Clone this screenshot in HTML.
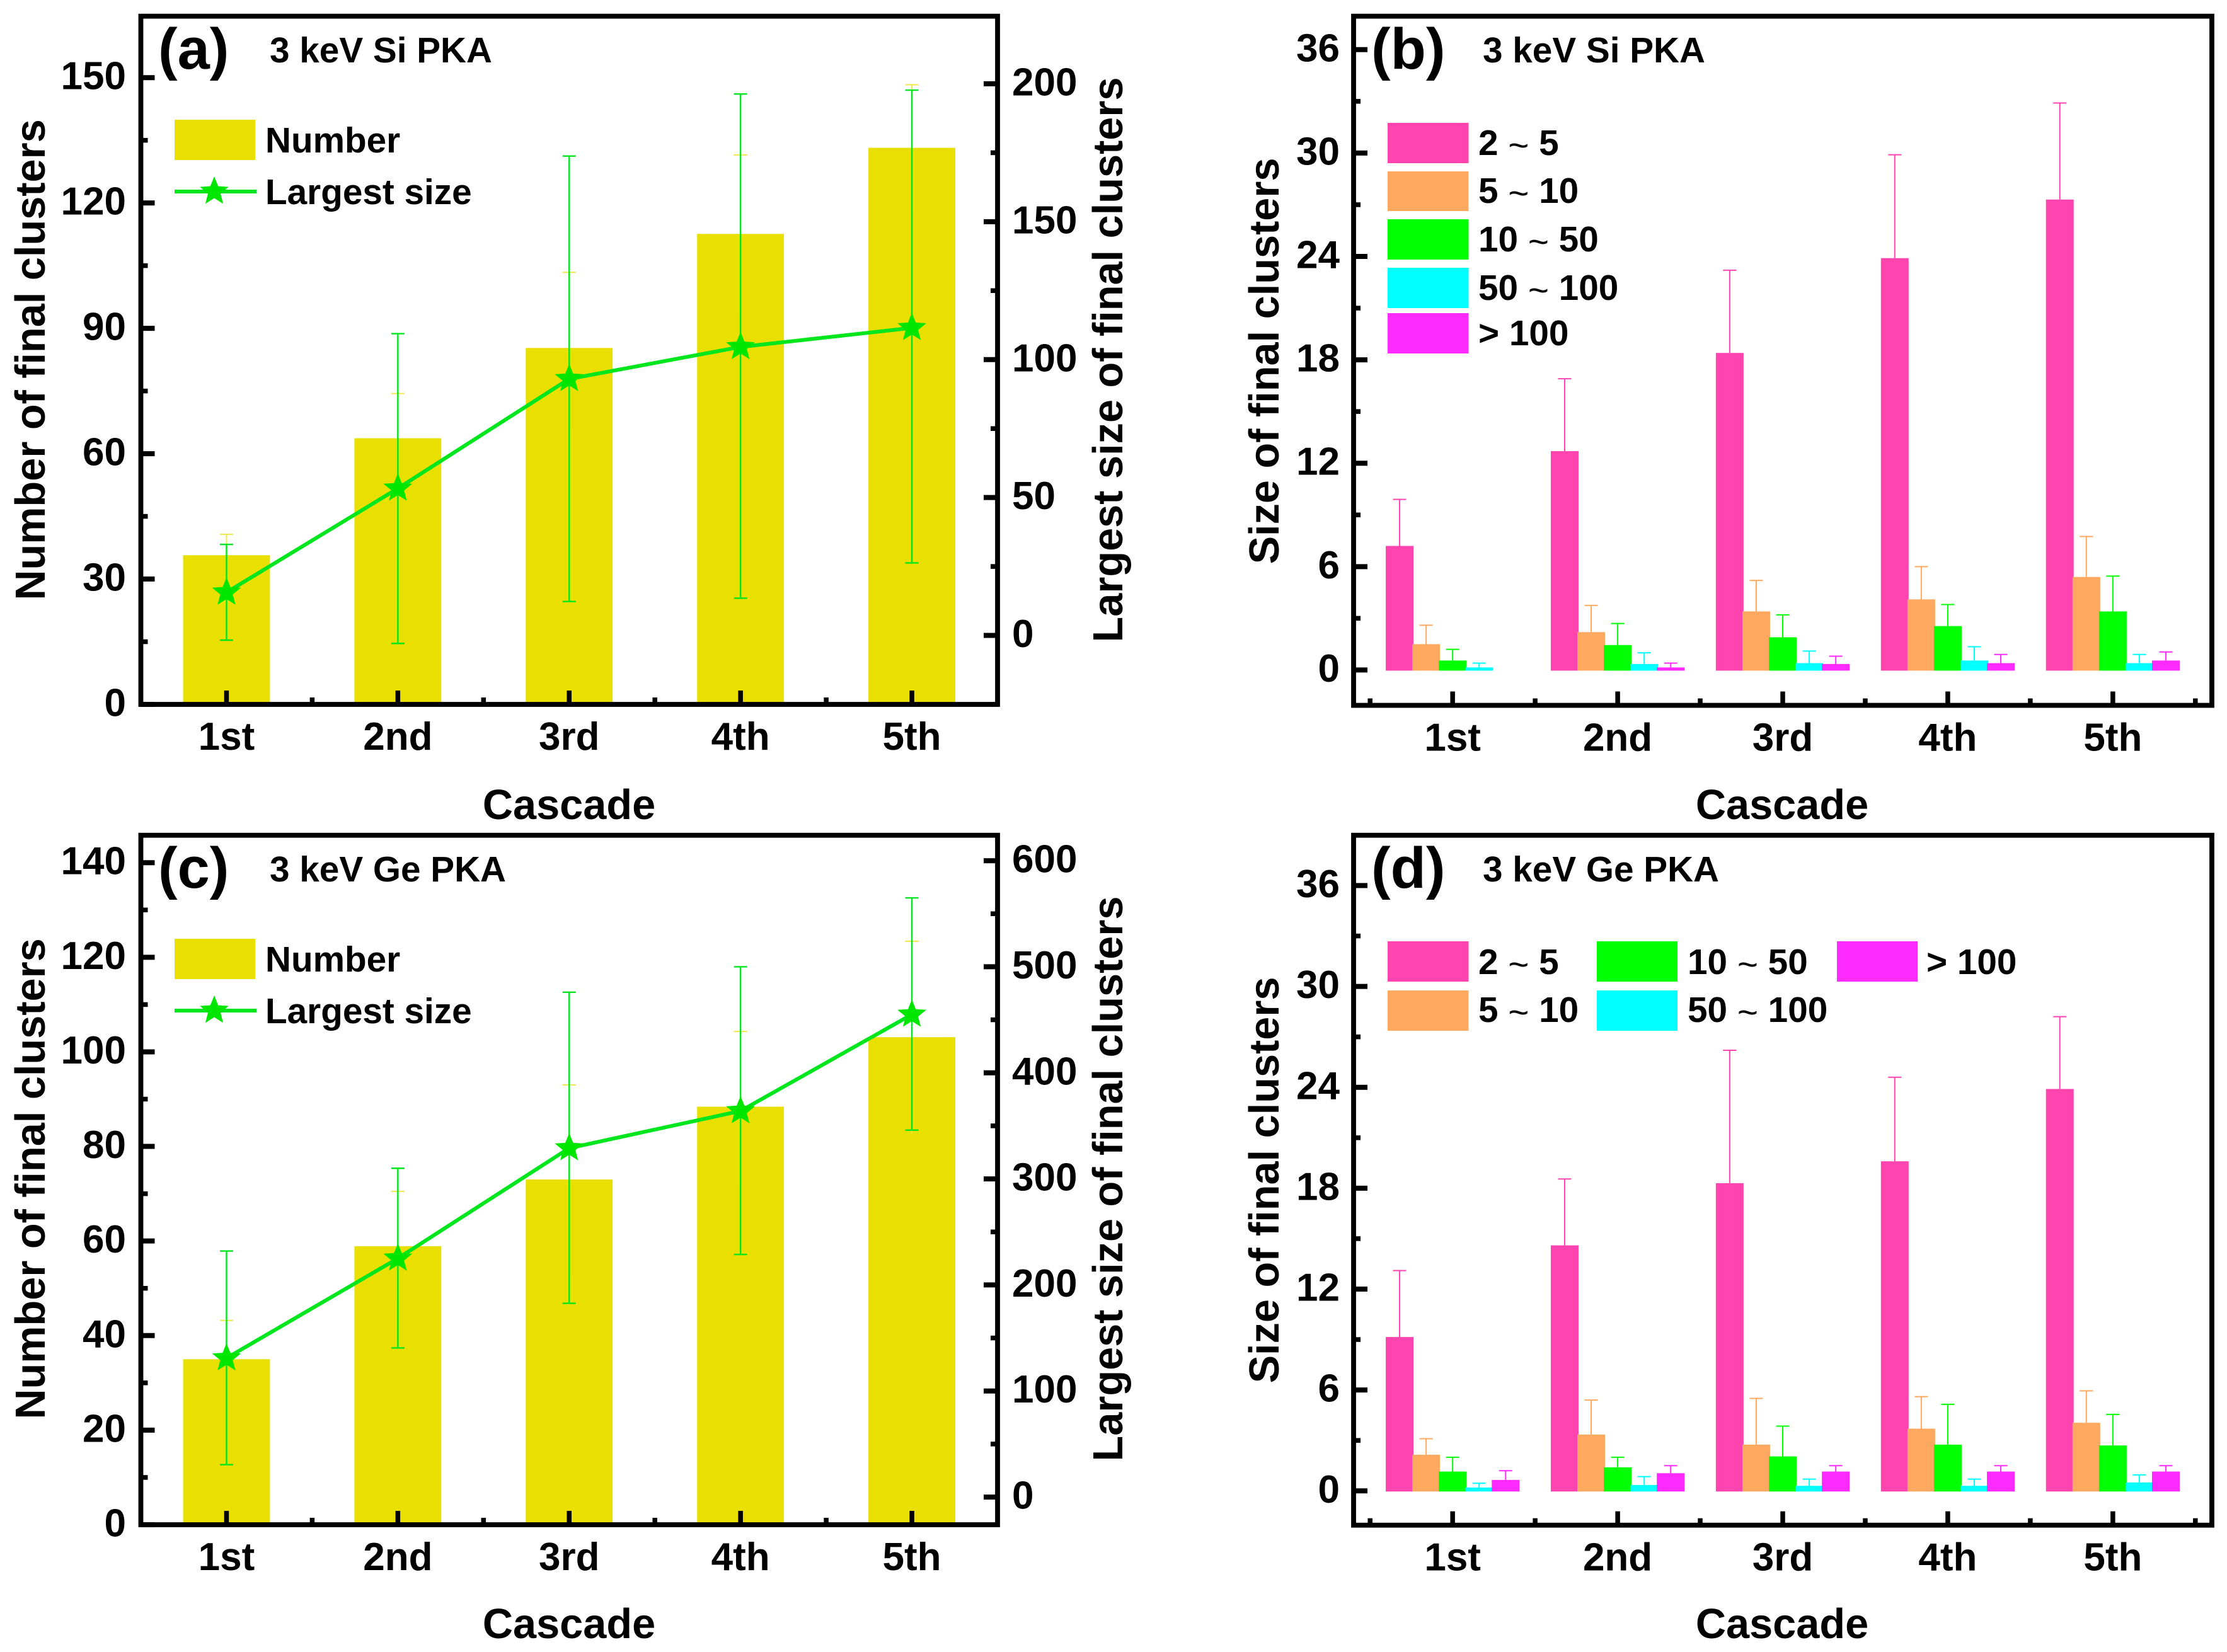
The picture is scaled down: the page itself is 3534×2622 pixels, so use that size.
<!DOCTYPE html>
<html lang="en">
<head>
<meta charset="utf-8">
<title>Final clusters per cascade for 3 keV Si and Ge PKA</title>
<style>
  html, body { margin: 0; padding: 0; background: #ffffff; }
  svg { display: block; }
  text { font-family: "Liberation Sans", Arial, sans-serif; font-weight: bold; fill: #000; }
  .tick { font-size: 62px; }
  .title { font-size: 66.7px; }
  .leg { font-size: 56.7px; }
  .tag { font-size: 92px; }
  .tl { font-weight: normal; }
</style>
</head>
<body>
<svg id="figure" xmlns="http://www.w3.org/2000/svg" width="3534" height="2622" viewBox="0 0 3534 2622">
  <rect width="3534" height="2622" fill="#ffffff"/>

  <g id="panel-a">
    <g id="marks-a"></g>
    <g id="axes-a"></g>
    <text class="tag" x="251" y="109">(a)</text>
    <text class="leg" x="428" y="99">3 keV Si PKA</text>
    <text class="title" transform="translate(71 571) rotate(-90)" text-anchor="middle">Number of final clusters</text>
    <text class="title" transform="translate(1781 571) rotate(-90)" text-anchor="middle">Largest size of final clusters</text>
    <text class="title" x="903" y="1300" text-anchor="middle">Cascade</text>
    <g id="legend-a">
      <rect x="277" y="190" width="128" height="64" fill="#E9DF00"/>
      <text class="leg" x="421" y="242">Number</text>
      <line x1="277" y1="304" x2="407" y2="304" stroke="#00E61E" stroke-width="6"/>
      <text class="leg" x="421" y="324">Largest size</text>
    </g>
  </g>

  <g id="panel-b">
    <g id="marks-b"></g>
    <g id="axes-b"></g>
    <text class="tag" x="2176" y="109">(b)</text>
    <text class="leg" x="2353" y="99">3 keV Si PKA</text>
    <text class="title" transform="translate(2029 573) rotate(-90)" text-anchor="middle">Size of final clusters</text>
    <text class="title" x="2828" y="1300" text-anchor="middle">Cascade</text>
    <g>
      <rect x="2202" y="195" width="128.500" height="64" fill="#FF44AF"/>
      <text class="leg" x="2346" y="246">2 <tspan class="tl" dy="4">~</tspan><tspan dy="-4"> 5</tspan></text>
      <rect x="2202" y="272" width="128.500" height="63" fill="#FFA860"/>
      <text class="leg" x="2346" y="322">5 <tspan class="tl" dy="4">~</tspan><tspan dy="-4"> 10</tspan></text>
      <rect x="2202" y="348" width="128.500" height="64" fill="#00FF00"/>
      <text class="leg" x="2346" y="399">10 <tspan class="tl" dy="4">~</tspan><tspan dy="-4"> 50</tspan></text>
      <rect x="2202" y="425" width="128.500" height="64" fill="#00FFFF"/>
      <text class="leg" x="2346" y="476">50 <tspan class="tl" dy="4">~</tspan><tspan dy="-4"> 100</tspan></text>
      <rect x="2202" y="497" width="128.500" height="64" fill="#FF2AFF"/>
      <text class="leg" x="2346" y="548">&gt; 100</text>
    </g>
  </g>

  <g id="panel-c">
    <g id="marks-c"></g>
    <g id="axes-c"></g>
    <text class="tag" x="251" y="1409">(c)</text>
    <text class="leg" x="428" y="1399">3 keV Ge PKA</text>
    <text class="title" transform="translate(71 1871) rotate(-90)" text-anchor="middle">Number of final clusters</text>
    <text class="title" transform="translate(1781 1871) rotate(-90)" text-anchor="middle">Largest size of final clusters</text>
    <text class="title" x="903" y="2600" text-anchor="middle">Cascade</text>
    <g id="legend-c">
      <rect x="277" y="1490" width="128" height="64" fill="#E9DF00"/>
      <text class="leg" x="421" y="1542">Number</text>
      <line x1="277" y1="1604" x2="407" y2="1604" stroke="#00E61E" stroke-width="6"/>
      <text class="leg" x="421" y="1624">Largest size</text>
    </g>
  </g>

  <g id="panel-d">
    <g id="marks-d"></g>
    <g id="axes-d"></g>
    <text class="tag" x="2176" y="1409">(d)</text>
    <text class="leg" x="2353" y="1399">3 keV Ge PKA</text>
    <text class="title" transform="translate(2029 1873) rotate(-90)" text-anchor="middle">Size of final clusters</text>
    <text class="title" x="2828" y="2600" text-anchor="middle">Cascade</text>
    <g>
      <rect x="2202" y="1494" width="128.500" height="64" fill="#FF44AF"/>
      <text class="leg" x="2346" y="1546">2 <tspan class="tl" dy="4">~</tspan><tspan dy="-4"> 5</tspan></text>
      <rect x="2202" y="1572" width="128.500" height="64" fill="#FFA860"/>
      <text class="leg" x="2346" y="1622">5 <tspan class="tl" dy="4">~</tspan><tspan dy="-4"> 10</tspan></text>
      <rect x="2534" y="1494" width="128" height="64" fill="#00FF00"/>
      <text class="leg" x="2678" y="1546">10 <tspan class="tl" dy="4">~</tspan><tspan dy="-4"> 50</tspan></text>
      <rect x="2534" y="1572" width="128" height="64" fill="#00FFFF"/>
      <text class="leg" x="2678" y="1622">50 <tspan class="tl" dy="4">~</tspan><tspan dy="-4"> 100</tspan></text>
      <rect x="2915" y="1494" width="128" height="64" fill="#FF2AFF"/>
      <text class="leg" x="3057" y="1546">&gt; 100</text>
    </g>
  </g>
</svg>

<script>
// ---------- data ----------
const categories = ['1st', '2nd', '3rd', '4th', '5th'];

// Panel (a): 3 keV Si PKA
const aNumber = [35.7, 63.7, 85.3, 112.6, 133.2];
const aNumberUpper = [40.7, 74.4, 103.4, 131.5, 148.3];
const aNumberLower = [30.7, 53.0, 67.2, 93.7, 118.1];
const aLargest = [15.6, 53.3, 93, 104.6, 111.5];
const aLargestUpper = [33, 109.4, 173.8, 196.3, 197.7];
const aLargestLower = [-1.7, -2.9, 12.3, 13.5, 26.3];
const aLeftTicks = [0, 30, 60, 90, 120, 150];
const aRightTicks = [0, 50, 100, 150, 200];

// Panel (c): 3 keV Ge PKA
const cNumber = [35, 58.9, 73, 88.4, 103.1];
const cNumberUpper = [43.2, 70.5, 93, 104.3, 123.4];
const cNumberLower = [26.8, 47.3, 53, 72.5, 82.8];
const cLargest = [131, 225, 329, 364, 455];
const cLargestUpper = [232, 310, 476, 500, 565];
const cLargestLower = [30.5, 140.6, 182.7, 228.7, 346];
const cLeftTicks = [0, 20, 40, 60, 80, 100, 120, 140];
const cRightTicks = [0, 100, 200, 300, 400, 500, 600];

// Panel (b): size bins, 3 keV Si PKA
const bSeriesNames = ['2-5', '5-10', '10-50', '50-100', 'over-100'];
const bRange2to5 = [7.2, 12.7, 18.4, 23.9, 27.3];
const bRange5to10 = [1.5, 2.2, 3.4, 4.1, 5.4];
const bRange10to50 = [0.55, 1.45, 1.9, 2.55, 3.4];
const bRange50to100 = [0.15, 0.35, 0.4, 0.55, 0.4];
const bRangeOver100 = [0, 0.15, 0.35, 0.4, 0.55];
const bCaps2to5 = [9.9, 16.9, 23.2, 29.9, 32.9];
const bCaps5to10 = [2.6, 3.75, 5.2, 6, 7.75];
const bCaps10to50 = [1.2, 2.7, 3.2, 3.8, 5.45];
const bCaps50to100 = [0.4, 1, 1.1, 1.35, 0.9];
const bCapsOver100 = [0, 0.4, 0.8, 0.9, 1.05];

// Panel (d): size bins, 3 keV Ge PKA
const dRange2to5 = [9.15, 14.6, 18.3, 19.6, 23.9];
const dRange5to10 = [2.15, 3.35, 2.75, 3.7, 4.05];
const dRange10to50 = [1.15, 1.4, 2.05, 2.75, 2.7];
const dRange50to100 = [0.2, 0.35, 0.3, 0.3, 0.5];
const dRangeOver100 = [0.65, 1.05, 1.15, 1.15, 1.15];
const dCaps2to5 = [13.1, 18.55, 26.2, 24.6, 28.2];
const dCaps5to10 = [3.1, 5.4, 5.5, 5.6, 5.95];
const dCaps10to50 = [2, 2, 3.85, 5.15, 4.55];
const dCaps50to100 = [0.45, 0.85, 0.7, 0.7, 0.95];
const dCapsOver100 = [1.2, 1.5, 1.5, 1.5, 1.5];

const sizeTicks = [0, 6, 12, 18, 24, 30, 36];
const seriesColors = ['#FF44AF', '#FFA860', '#00FF00', '#00FFFF', '#FF2AFF'];

// ---------- helpers ----------
const NS = 'http://www.w3.org/2000/svg';
function mk(parent, tag, attrs, txt) {
  const n = document.createElementNS(NS, tag);
  for (const k in attrs) n.setAttribute(k, attrs[k]);
  if (txt !== undefined) n.textContent = txt;
  parent.appendChild(n);
  return n;
}
function scale(d0, d1, r0, r1) {
  return function (v) { return r0 + (v - d0) * (r1 - r0) / (d1 - d0); };
}
function starPoints(cx, cy, R, r) {
  const p = [];
  for (let i = 0; i < 10; i++) {
    const a = -Math.PI / 2 + i * Math.PI / 5;
    const q = i % 2 ? r : R;
    p.push((cx + q * Math.cos(a)).toFixed(1) + ',' + (cy + q * Math.sin(a)).toFixed(1));
  }
  return p.join(' ');
}
const LW = 7.8;
function drawFrame(g, f) {
  const frame = mk(g, 'rect', { x: f.l, y: f.t, width: f.r - f.l, height: f.b - f.t, fill: 'none', stroke: '#000', 'stroke-width': LW });
  
  
}
function yAxis(g, f, y, ticks, step, side, labelX, name) {
  const dir = side === 'left' ? 1 : -1;
  const x0 = side === 'left' ? f.l : f.r;
  const dom0 = Math.ceil(y.min / (step / 2));
  const dom1 = Math.floor(y.max / (step / 2));
  for (let k = dom0; k <= dom1; k++) {
    const v = k * step / 2;
    const isMajor = k % 2 === 0;
    const t = mk(g, 'line', { x1: x0, x2: x0 + dir * (isMajor ? 22 : 11), y1: y(v), y2: y(v), stroke: '#000', 'stroke-width': isMajor ? 8 : 7.5 });
    
    
  }
  ticks.forEach(function (v) {
    const lab = mk(g, 'text', { class: 'tick', x: labelX, y: y(v) + 18.5, 'text-anchor': side === 'left' ? 'end' : 'start' }, String(v));
    
    
  });
}
function xAxis(g, f, x, cats, minorFrom, minorTo) {
  for (let v = minorFrom; v <= minorTo + 1e-6; v += 0.5) {
    const isMajor = Math.abs(v - Math.round(v)) < 1e-6;
    const t = mk(g, 'line', { x1: x(v), x2: x(v), y1: f.b, y2: f.b - (isMajor ? 22 : 11), stroke: '#000', 'stroke-width': 7.5 });
    
    
  }
  cats.forEach(function (c, i) {
    const lab = mk(g, 'text', { class: 'tick', x: x(i + 1), y: f.b + 72, 'text-anchor': 'middle' }, c);
    
    
  });
}
function errorBar(g, cx, yTop, yBot, color, w, name) {
  const v = mk(g, 'line', { x1: cx, x2: cx, y1: yTop, y2: yBot, stroke: color, 'stroke-width': w });
  
  
  const c1 = mk(g, 'line', { x1: cx - 10.5, x2: cx + 10.5, y1: yTop, y2: yTop, stroke: color, 'stroke-width': w });
  
  
}

function drawCombo(id, f, leftMax, rightMin, rightMax, leftTicks, rightTicks, leftStep, rightStep,
                   bars, barUp, barLow, pts, ptUp, ptLow) {
  const marks = document.getElementById('marks-' + id);
  const axes = document.getElementById('axes-' + id);
  const x = scale(0.5, 5.5, f.l, f.r);
  const yL = scale(0, leftMax, f.b, f.t);
  yL.min = 0; yL.max = leftMax;
  const yR = scale(rightMin, rightMax, f.b, f.t);
  yR.min = rightMin; yR.max = rightMax;
  const bw = 0.507 * (x(2) - x(1));

  bars.forEach(function (v, i) {
    const r = mk(marks, 'rect', { x: x(i + 1) - bw / 2, y: yL(v), width: bw, height: f.b - yL(v), fill: '#E9DF00' });
    
    
  });
  bars.forEach(function (v, i) {
    errorBar(marks, x(i + 1), yL(barUp[i]), yL(barLow[i]), '#F2E64A', 2, 'number-error-bar');
  });
  pts.forEach(function (v, i) {
    const cx = x(i + 1);
    const l = mk(marks, 'line', { x1: cx, x2: cx, y1: yR(ptUp[i]), y2: yR(ptLow[i]), stroke: '#00E61E', 'stroke-width': 2.4 });
    
    
    [ptUp[i], ptLow[i]].forEach(function (c) {
      const cap = mk(marks, 'line', { x1: cx - 10.5, x2: cx + 10.5, y1: yR(c), y2: yR(c), stroke: '#00E61E', 'stroke-width': 2.4 });
      
      
    });
  });
  const line = mk(marks, 'polyline', {
    points: pts.map(function (v, i) { return x(i + 1) + ',' + yR(v); }).join(' '),
    fill: 'none', stroke: '#00E61E', 'stroke-width': 6, 'stroke-linejoin': 'round'
  });
  
  
  pts.forEach(function (v, i) {
    const s = mk(marks, 'polygon', { points: starPoints(x(i + 1), yR(v), 24, 10.5), fill: '#00E600' });
    
    
  });

  drawFrame(axes, f);
  yAxis(axes, f, yL, leftTicks, leftStep, 'left', f.l - 23.5, 'left-axis');
  yAxis(axes, f, yR, rightTicks, rightStep, 'right', f.r + 23, 'right-axis');
  xAxis(axes, f, x, categories, 1, 5);
}

function drawSizes(id, f, yMin, yMax, seriesValues, seriesCaps) {
  const marks = document.getElementById('marks-' + id);
  const axes = document.getElementById('axes-' + id);
  const x = scale(0.4, 5.6, f.l, f.r);
  const y = scale(yMin, yMax, f.b, f.t);
  y.min = yMin; y.max = yMax;
  const step = 0.1606 * (x(2) - x(1));
  const bw = 0.168 * (x(2) - x(1));
  const baseline = y(0) + 1;

  seriesValues.forEach(function (vals, s) {
    vals.forEach(function (v, i) {
      if (v <= 0) return;
      const cx = x(i + 1) + (s - 2) * step;
      errorBar(marks, cx, y(seriesCaps[s][i]), y(v), seriesColors[s], 2, 'error-bar-' + bSeriesNames[s]);
    });
  });
  seriesValues.forEach(function (vals, s) {
    vals.forEach(function (v, i) {
      if (v <= 0) return;
      const cx = x(i + 1) + (s - 2) * step;
      const r = mk(marks, 'rect', { x: cx - bw / 2, y: y(v), width: bw, height: baseline - y(v), fill: seriesColors[s] });
      
      
    });
  });

  drawFrame(axes, f);
  yAxis(axes, f, y, sizeTicks, 6, 'left', f.l - 22, 'y-axis');
  xAxis(axes, f, x, categories, 0.5, 5.5);
}

// ---------- draw ----------
const frameA = { l: 223.5, r: 1583, t: 25.7, b: 1118 };
const frameC = { l: 223.5, r: 1583, t: 1325.7, b: 2420 };
const frameB = { l: 2148, r: 3510, t: 25.7, b: 1119.5 };
const frameD = { l: 2148, r: 3510, t: 1325.7, b: 2420.7 };

drawCombo('a', frameA, 164.7, -25, 224.5, aLeftTicks, aRightTicks, 30, 50,
  aNumber, aNumberUpper, aNumberLower, aLargest, aLargestUpper, aLargestLower);
drawCombo('c', frameC, 145.8, -26.1, 624, cLeftTicks, cRightTicks, 20, 100,
  cNumber, cNumberUpper, cNumberLower, cLargest, cLargestUpper, cLargestLower);
drawSizes('b', frameB, -2.05, 37.94,
  [bRange2to5, bRange5to10, bRange10to50, bRange50to100, bRangeOver100],
  [bCaps2to5, bCaps5to10, bCaps10to50, bCaps50to100, bCapsOver100]);
drawSizes('d', frameD, -2.04, 38.99,
  [dRange2to5, dRange5to10, dRange10to50, dRange50to100, dRangeOver100],
  [dCaps2to5, dCaps5to10, dCaps10to50, dCaps50to100, dCapsOver100]);

// legend star markers
const legendStarA = mk(document.getElementById('legend-a'), 'polygon', { points: starPoints(340, 304, 24, 10.5), fill: '#00E600' });


const legendStarC = mk(document.getElementById('legend-c'), 'polygon', { points: starPoints(340, 1604, 24, 10.5), fill: '#00E600' });


</script>
</body>
</html>
